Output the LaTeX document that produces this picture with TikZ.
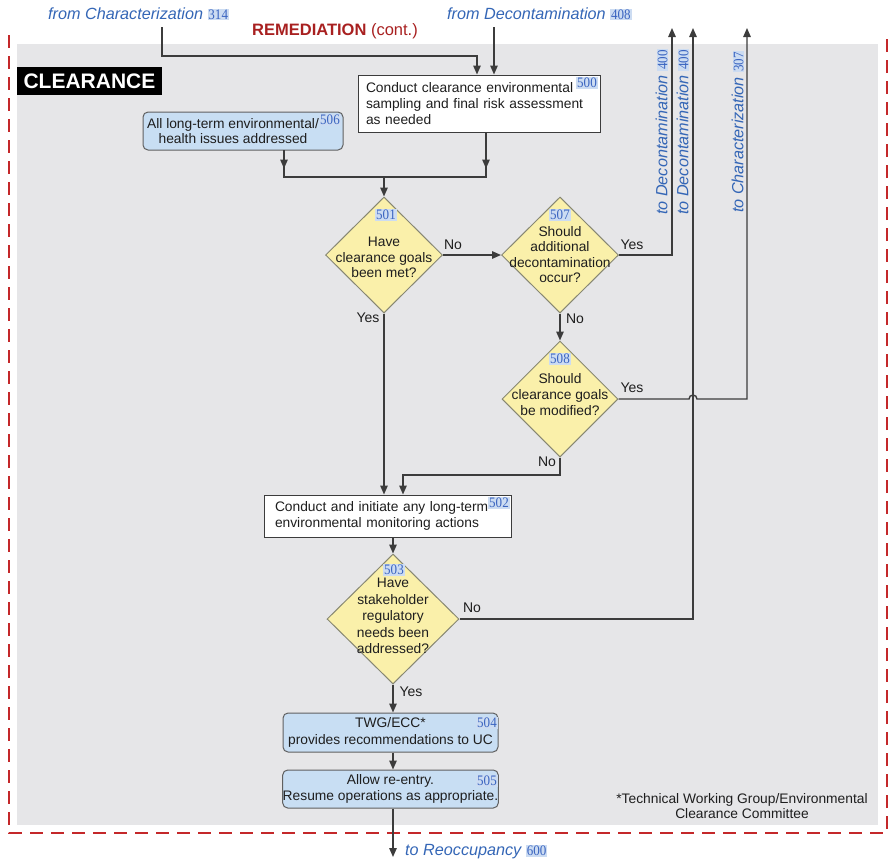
\documentclass[tikz,border=0pt]{standalone}
\usepackage{fontspec}
\setmainfont{Liberation Sans}
\newfontfamily\numfont[FakeStretch=0.9]{Liberation Serif}
\usetikzlibrary{shapes.geometric,arrows.meta,calc}

\definecolor{panelgray}{RGB}{230,230,232}
\definecolor{framered}{RGB}{196,40,42}
\definecolor{linkblue}{RGB}{52,102,182}
\definecolor{badgebg}{RGB}{204,220,242}
\definecolor{badgefg}{RGB}{58,100,192}
\definecolor{decfill}{RGB}{250,240,170}
\definecolor{decedge}{RGB}{135,135,115}
\definecolor{procblue}{RGB}{200,222,243}
\definecolor{edgegray}{RGB}{60,60,60}
\definecolor{remred}{RGB}{168,32,32}
\definecolor{inkgray}{RGB}{30,30,30}

% small reference number tag
\newcommand\refno[1]{{\setlength{\fboxsep}{0.9pt}\colorbox{badgebg}{\numfont\upshape\mdseries\fontsize{14.5}{15}\selectfont\color{badgefg}#1}}}

\begin{document}
\begin{tikzpicture}[x=1pt,y=-1pt,
  txt/.style={font=\fontsize{13.8}{15.6}\selectfont, text=inkgray},
  procbox/.style={txt, draw=edgegray, line width=1pt, fill=white, inner sep=0pt},
  bluebox/.style={txt, draw=gray!75!black, fill=procblue, rounded corners=5pt, line width=1pt, inner sep=0pt},
  decision/.style={diamond, draw=decedge, fill=decfill, line width=1pt, inner sep=0pt},
  dtext/.style={txt, align=center, inner sep=0pt},
  tag/.style={inner sep=0pt},
  plain/.style={draw=edgegray, line width=1.4pt},
  flow/.style={plain, -{Triangle[length=9pt,width=7.5pt]}},
  link/.style={font=\itshape\fontsize{16.2}{18}\selectfont, text=linkblue, inner sep=0pt},
  answer/.style={font=\fontsize{14}{16}\selectfont, text=inkgray, inner sep=0pt}]

\useasboundingbox (0,0) rectangle (889,863);

% panel and dashed frame
\fill[panelgray] (17,44) rectangle (878,825);
\draw[framered, line width=2.2pt, dash pattern=on 13pt off 8pt] (9,35) -- (9,833) -- (887,833) -- (887,35);

\node[font=\fontsize{16.5}{18}\selectfont, inner sep=0pt] (title) at (335,31)
  {\textcolor{remred}{\bfseries REMEDIATION} \textcolor{remred}{(cont.)}};
\node[fill=black, text=white, font=\bfseries\fontsize{21}{22}\selectfont,
      minimum width=145pt, minimum height=28pt, inner sep=0pt] (clr) at (89.5,81) {CLEARANCE};

% incoming links
\node[link, anchor=west] (fromchar) at (48,14) {from Characterization \refno{314}};
\node[link, anchor=west] (fromdec) at (447,14) {from Decontamination \refno{408}};

% process boxes
\node[procbox, minimum width=242pt, minimum height=57pt, text width=226pt, align=left] (b500) at (479,103.5)
  {Conduct clearance environmental\\sampling and final risk assessment\\as needed};
\node[tag] (t500) at (587,83) {\refno{500}};

\node[bluebox, minimum width=200pt, minimum height=38pt, align=center] (b506) at (243,131)
  {All long-term environmental/\hspace*{20pt}\\health issues addressed\hspace*{20pt}};
\node[tag] (t506) at (330,120) {\refno{506}};

\node[procbox, minimum width=247pt, minimum height=42pt, text width=225pt, align=left] (b502) at (387.5,516)
  {Conduct and initiate any long-term\\environmental monitoring actions};
\node[tag] (t502) at (499,503) {\refno{502}};

\node[bluebox, minimum width=215pt, minimum height=39pt, align=center,
      font=\fontsize{13.8}{17}\selectfont] (b504) at (390.5,732.5)
  {TWG/ECC*\\provides recommendations to UC};
\node[tag] (t504) at (487,723) {\refno{504}};

\node[bluebox, minimum width=215pt, minimum height=38pt, align=center] (b505) at (390.5,789)
  {Allow re-entry.\\Resume operations as appropriate.};
\node[tag] (t505) at (487,781) {\refno{505}};

% decisions
\node[decision, minimum width=117pt, minimum height=116pt] (d501) at (384,255) {};
\node[tag] (t501) at (386,215) {\refno{501}};
\node[dtext] (q501) at (384,257.5) {Have\\clearance goals\\been met?};

\node[decision, minimum width=117pt, minimum height=116pt] (d507) at (560,255) {};
\node[tag] (t507) at (560,215) {\refno{507}};
\node[dtext] (q507) at (560,254.5) {Should\\additional\\decontamination\\occur?};

\node[decision, minimum width=116pt, minimum height=116pt] (d508) at (560,399) {};
\node[tag] (t508) at (560,359) {\refno{508}};
\node[dtext] (q508) at (560,394.5) {Should\\clearance goals\\be modified?};

\node[decision, minimum width=132pt, minimum height=130pt] (d503) at (393,619) {};
\node[tag] (t503) at (394,570) {\refno{503}};
\node[dtext, font=\fontsize{13.8}{16.4}\selectfont] (q503) at (393,616)
  {Have\\stakeholder\\regulatory\\needs been\\addressed?};

% outgoing links
\node[link, rotate=90] (todec1) at (662,132) {to Decontamination \refno{400}};
\node[link, rotate=90] (todec2) at (683,132) {to Decontamination \refno{400}};
\node[link, rotate=90] (tochar) at (738,132) {to Characterization \refno{307}};
\node[link, anchor=west] (toreocc) at (405,852) {to Reoccupancy \refno{600}};

\node[txt, align=center, inner sep=0pt] (note) at (742,806)
  {*Technical Working Group/Environmental\\Clearance Committee};

% route points
\coordinate (fc) at (162,27);
\coordinate (fcturn) at (477,56);
\coordinate (fd) at (494,27);
\coordinate (j506) at (284,150);
\coordinate (j500) at (486,132);
\coordinate (join) at (384,177);
\coordinate (top1) at (672,28);
\coordinate (top2) at (693,28);
\coordinate (top3) at (747,28);
\coordinate (low508) at (560,475);
\coordinate (in502) at (403,475);
\coordinate (exit) at (393,857);

% connectors
\draw[flow] (fc) -- (fc |- fcturn) -- (fcturn) -- (fcturn |- b500.north);
\draw[flow] (fd) -- (fd |- b500.north);

\draw[plain] (j506) -- (j506 |- join) -- (j500 |- join) -- (j500);
\draw[flow] (j506) -- ++(0,18.5);
\draw[flow] (j500) -- ++(0,36.5);
\draw[flow] (join) -- (d501.north);

\draw[flow] (d501.east) -- (d507.west);
\draw[flow] (d501.south) -- (d501.south |- b502.north);
\draw[flow] (d507.east) -- (d507.east -| top1) -- (top1);
\draw[flow] (d507.south) -- (d508.north);
\draw[flow] (d508.east) -- ($(d508.east -| top2)+(-4,0)$)
  arc[start angle=180, end angle=0, radius=4pt] -- (d508.east -| top3) -- (top3);
\draw[flow] (d508.south) -- (low508) -- (in502) -- (in502 |- b502.north);

\draw[flow] (b502.south -| d503.north) -- (d503.north);
\draw[flow] (d503.east) -- (d503.east -| top2) -- (top2);
\draw[flow] (d503.south) -- (d503.south |- b504.north);
\draw[flow] (b504.south -| d503.south) -- (b505.north -| d503.south);
\draw[flow] (b505.south -| exit) -- (exit);

% answers
\node[answer] (a1) at (368,318) {Yes};
\node[answer] (a2) at (453,245) {No};
\node[answer] (a3) at (632,245) {Yes};
\node[answer] (a4) at (575,319) {No};
\node[answer] (a5) at (632,388) {Yes};
\node[answer] (a6) at (547,462) {No};
\node[answer] (a7) at (472,608) {No};
\node[answer] (a8) at (411,692) {Yes};
\end{tikzpicture}
\end{document}
